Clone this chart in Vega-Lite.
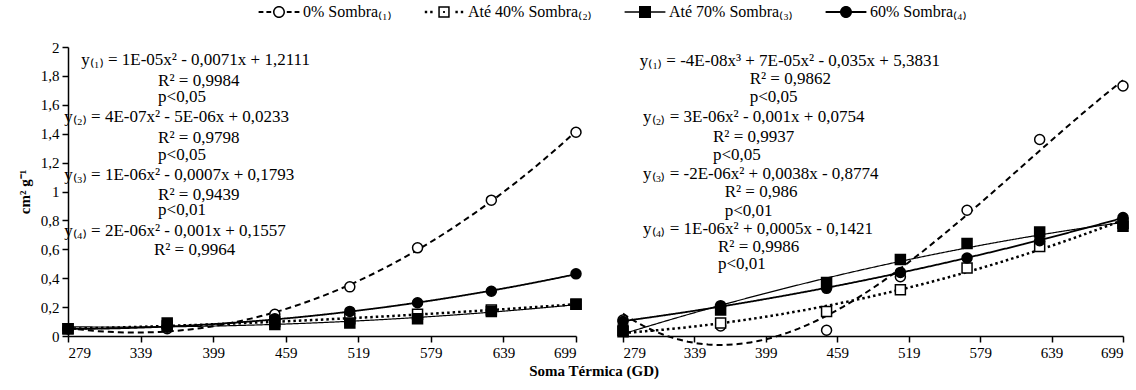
{
  "$schema": "https://vega.github.io/schema/vega-lite/v6.json",
  "padding": {"left": 17, "top": 4, "right": 2, "bottom": 2},
  "datasets": {
    "pts": [
      {"painel": "A", "serie": "0% Sombra₍₁₎", "x": 279, "y": 0.05},
      {"painel": "A", "serie": "0% Sombra₍₁₎", "x": 361, "y": 0.05},
      {"painel": "A", "serie": "0% Sombra₍₁₎", "x": 450, "y": 0.15},
      {"painel": "A", "serie": "0% Sombra₍₁₎", "x": 512, "y": 0.34},
      {"painel": "A", "serie": "0% Sombra₍₁₎", "x": 568, "y": 0.61},
      {"painel": "A", "serie": "0% Sombra₍₁₎", "x": 629, "y": 0.94},
      {"painel": "A", "serie": "0% Sombra₍₁₎", "x": 699, "y": 1.41},
      {"painel": "A", "serie": "Até 40% Sombra₍₂₎", "x": 279, "y": 0.05},
      {"painel": "A", "serie": "Até 40% Sombra₍₂₎", "x": 361, "y": 0.07},
      {"painel": "A", "serie": "Até 40% Sombra₍₂₎", "x": 450, "y": 0.10},
      {"painel": "A", "serie": "Até 40% Sombra₍₂₎", "x": 512, "y": 0.12},
      {"painel": "A", "serie": "Até 40% Sombra₍₂₎", "x": 568, "y": 0.15},
      {"painel": "A", "serie": "Até 40% Sombra₍₂₎", "x": 629, "y": 0.18},
      {"painel": "A", "serie": "Até 40% Sombra₍₂₎", "x": 699, "y": 0.22},
      {"painel": "A", "serie": "Até 70% Sombra₍₃₎", "x": 279, "y": 0.05},
      {"painel": "A", "serie": "Até 70% Sombra₍₃₎", "x": 361, "y": 0.09},
      {"painel": "A", "serie": "Até 70% Sombra₍₃₎", "x": 450, "y": 0.08},
      {"painel": "A", "serie": "Até 70% Sombra₍₃₎", "x": 512, "y": 0.09},
      {"painel": "A", "serie": "Até 70% Sombra₍₃₎", "x": 568, "y": 0.12},
      {"painel": "A", "serie": "Até 70% Sombra₍₃₎", "x": 629, "y": 0.17},
      {"painel": "A", "serie": "Até 70% Sombra₍₃₎", "x": 699, "y": 0.22},
      {"painel": "A", "serie": "60% Sombra₍₄₎", "x": 279, "y": 0.05},
      {"painel": "A", "serie": "60% Sombra₍₄₎", "x": 361, "y": 0.06},
      {"painel": "A", "serie": "60% Sombra₍₄₎", "x": 450, "y": 0.12},
      {"painel": "A", "serie": "60% Sombra₍₄₎", "x": 512, "y": 0.17},
      {"painel": "A", "serie": "60% Sombra₍₄₎", "x": 568, "y": 0.23},
      {"painel": "A", "serie": "60% Sombra₍₄₎", "x": 629, "y": 0.31},
      {"painel": "A", "serie": "60% Sombra₍₄₎", "x": 699, "y": 0.43},
      {"painel": "B", "serie": "0% Sombra₍₁₎", "x": 279, "y": 0.11},
      {"painel": "B", "serie": "0% Sombra₍₁₎", "x": 361, "y": 0.07},
      {"painel": "B", "serie": "0% Sombra₍₁₎", "x": 450, "y": 0.04},
      {"painel": "B", "serie": "0% Sombra₍₁₎", "x": 512, "y": 0.41},
      {"painel": "B", "serie": "0% Sombra₍₁₎", "x": 568, "y": 0.87},
      {"painel": "B", "serie": "0% Sombra₍₁₎", "x": 629, "y": 1.36},
      {"painel": "B", "serie": "0% Sombra₍₁₎", "x": 699, "y": 1.73},
      {"painel": "B", "serie": "Até 40% Sombra₍₂₎", "x": 279, "y": 0.03},
      {"painel": "B", "serie": "Até 40% Sombra₍₂₎", "x": 361, "y": 0.09},
      {"painel": "B", "serie": "Até 40% Sombra₍₂₎", "x": 450, "y": 0.17},
      {"painel": "B", "serie": "Até 40% Sombra₍₂₎", "x": 512, "y": 0.32},
      {"painel": "B", "serie": "Até 40% Sombra₍₂₎", "x": 568, "y": 0.47},
      {"painel": "B", "serie": "Até 40% Sombra₍₂₎", "x": 629, "y": 0.62},
      {"painel": "B", "serie": "Até 40% Sombra₍₂₎", "x": 699, "y": 0.78},
      {"painel": "B", "serie": "Até 70% Sombra₍₃₎", "x": 279, "y": 0.04},
      {"painel": "B", "serie": "Até 70% Sombra₍₃₎", "x": 361, "y": 0.18},
      {"painel": "B", "serie": "Até 70% Sombra₍₃₎", "x": 450, "y": 0.37},
      {"painel": "B", "serie": "Até 70% Sombra₍₃₎", "x": 512, "y": 0.53},
      {"painel": "B", "serie": "Até 70% Sombra₍₃₎", "x": 568, "y": 0.64},
      {"painel": "B", "serie": "Até 70% Sombra₍₃₎", "x": 629, "y": 0.72},
      {"painel": "B", "serie": "Até 70% Sombra₍₃₎", "x": 699, "y": 0.76},
      {"painel": "B", "serie": "60% Sombra₍₄₎", "x": 279, "y": 0.10},
      {"painel": "B", "serie": "60% Sombra₍₄₎", "x": 361, "y": 0.21},
      {"painel": "B", "serie": "60% Sombra₍₄₎", "x": 450, "y": 0.33},
      {"painel": "B", "serie": "60% Sombra₍₄₎", "x": 512, "y": 0.44},
      {"painel": "B", "serie": "60% Sombra₍₄₎", "x": 568, "y": 0.54},
      {"painel": "B", "serie": "60% Sombra₍₄₎", "x": 629, "y": 0.66},
      {"painel": "B", "serie": "60% Sombra₍₄₎", "x": 699, "y": 0.82}
    ],
    "txt": [
      {"painel": "A", "x": 290, "y": 1.907, "t": "y₍₁₎ = 1E-05x² - 0,0071x + 1,2111"},
      {"painel": "A", "x": 353.5, "y": 1.768, "t": "R² = 0,9984"},
      {"painel": "A", "x": 353.5, "y": 1.652, "t": "p<0,05"},
      {"painel": "A", "x": 276, "y": 1.517, "t": "y₍₂₎ = 4E-07x² - 5E-06x + 0,0233"},
      {"painel": "A", "x": 353.5, "y": 1.369, "t": "R² = 0,9798"},
      {"painel": "A", "x": 353.5, "y": 1.253, "t": "p<0,05"},
      {"painel": "A", "x": 276, "y": 1.114, "t": "y₍₃₎ = 1E-06x² - 0,0007x + 0,1793"},
      {"painel": "A", "x": 353.5, "y": 0.979, "t": "R² = 0,9439"},
      {"painel": "A", "x": 353.5, "y": 0.875, "t": "p<0,01"},
      {"painel": "A", "x": 276, "y": 0.729, "t": "y₍₄₎ = 2E-06x² - 0,001x + 0,1557"},
      {"painel": "A", "x": 350, "y": 0.596, "t": "R² = 0,9964"},
      {"painel": "B", "x": 293, "y": 1.905, "t": "y₍₁₎ = -4E-08x³ + 7E-05x² - 0,035x + 5,3831"},
      {"painel": "B", "x": 385.4, "y": 1.779, "t": "R² = 0,9862"},
      {"painel": "B", "x": 385.4, "y": 1.652, "t": "p<0,05"},
      {"painel": "B", "x": 295.8, "y": 1.513, "t": "y₍₂₎ = 3E-06x² - 0,001x + 0,0754"},
      {"painel": "B", "x": 354.6, "y": 1.375, "t": "R² = 0,9937"},
      {"painel": "B", "x": 354.6, "y": 1.253, "t": "p<0,05"},
      {"painel": "B", "x": 295.8, "y": 1.121, "t": "y₍₃₎ = -2E-06x² + 0,0038x - 0,8774"},
      {"painel": "B", "x": 364.4, "y": 0.994, "t": "R² = 0,986"},
      {"painel": "B", "x": 364.4, "y": 0.867, "t": "p<0,01"},
      {"painel": "B", "x": 295.8, "y": 0.74, "t": "y₍₄₎ = 1E-06x² + 0,0005x - 0,1421"},
      {"painel": "B", "x": 358.8, "y": 0.614, "t": "R² = 0,9986"},
      {"painel": "B", "x": 358.8, "y": 0.498, "t": "p<0,01"}
    ]
  },
  "title": {"text": "Soma Térmica (GD)", "orient": "bottom", "anchor": "middle", "font": "Liberation Serif", "fontSize": 15, "fontWeight": "bold", "color": "black", "offset": 4, "dx": 20},
  "spacing": 31,
  "hconcat": [
    {
      "width": 508,
      "height": 289,
      "layer": [
        {
          "data": {"name": "pts"},
          "transform": [
            {"filter": "datum.painel === 'A'"},
            {"regression": "y", "on": "x", "groupby": ["serie"], "method": "poly", "order": 2}
          ],
          "mark": {"type": "line", "color": "black"},
          "encoding": {
            "x": {"field": "x", "type": "quantitative", "scale": {"domain": [279, 699], "nice": false, "zero": false}, "axis": {"values": [279, 339, 399, 459, 519, 579, 639, 699], "title": null, "labelPadding": 3}},
            "y": {"field": "y", "type": "quantitative", "scale": {"domain": [0, 2], "nice": false}, "axis": {"values": [0, 0.2, 0.4, 0.6, 0.8, 1, 1.2, 1.4, 1.6, 1.8, 2], "title": "cm² g⁻¹", "titleFontWeight": "bold", "titlePadding": 8, "labelPadding": 3, "labelExpr": "replace(format(datum.value, '.1~f'), '.', ',')"}},
            "detail": {"field": "serie", "type": "nominal"},
            "strokeDash": {"condition": [{"test": "indexof(datum.serie, '0% Sombra') === 0", "value": [6, 4]}, {"test": "indexof(datum.serie, '40%') >= 0", "value": [2.5, 3]}], "value": [1, 0]},
            "strokeWidth": {"condition": [{"test": "indexof(datum.serie, '70%') >= 0", "value": 1.2}, {"test": "indexof(datum.serie, '40%') >= 0", "value": 2.5}, {"test": "indexof(datum.serie, '60%') === 0", "value": 1.8}], "value": 2}
          }
        },
        {
          "data": {"name": "pts"},
          "transform": [{"filter": "datum.painel === 'A'"}],
          "mark": {"type": "point", "filled": true, "stroke": "black", "strokeWidth": 1.5, "size": 100, "opacity": 1},
          "encoding": {
            "x": {"field": "x", "type": "quantitative", "scale": {"domain": [279, 699], "nice": false, "zero": false}, "axis": {"values": [279, 339, 399, 459, 519, 579, 639, 699], "title": null, "labelPadding": 3}},
            "y": {"field": "y", "type": "quantitative", "scale": {"domain": [0, 2], "nice": false}, "axis": {"values": [0, 0.2, 0.4, 0.6, 0.8, 1, 1.2, 1.4, 1.6, 1.8, 2], "title": "cm² g⁻¹", "titleFontWeight": "bold", "titlePadding": 8, "labelPadding": 3, "labelExpr": "replace(format(datum.value, '.1~f'), '.', ',')"}},
            "shape": {"condition": {"test": "indexof(datum.serie, 'Até') === 0", "value": "square"}, "value": "circle"},
            "fill": {"condition": {"test": "indexof(datum.serie, '0% Sombra') === 0 || indexof(datum.serie, '40%') >= 0", "value": "white"}, "value": "black"}
          }
        },
        {
          "data": {"name": "pts"},
          "transform": [{"filter": "datum.painel === 'none'"}],
          "mark": {"type": "point", "filled": true, "color": "black", "size": 100},
          "encoding": {
            "x": {"field": "x", "type": "quantitative", "scale": {"domain": [279, 699], "nice": false, "zero": false}, "axis": {"values": [279, 339, 399, 459, 519, 579, 639, 699], "title": null, "labelPadding": 3}},
            "y": {"field": "y", "type": "quantitative", "scale": {"domain": [0, 2], "nice": false}, "axis": {"values": [0, 0.2, 0.4, 0.6, 0.8, 1, 1.2, 1.4, 1.6, 1.8, 2], "title": "cm² g⁻¹", "titleFontWeight": "bold", "titlePadding": 8, "labelPadding": 3, "labelExpr": "replace(format(datum.value, '.1~f'), '.', ',')"}},
            "shape": {"field": "serie", "type": "nominal",
              "scale": {"domain": ["0% Sombra₍₁₎", "Até 40% Sombra₍₂₎", "Até 70% Sombra₍₃₎", "60% Sombra₍₄₎"],
                "range": [
                  "M-3.4,-0.15H-2.6V0.15H-3.4ZM-2.1,-0.15H-1.3V0.15H-2.1ZM1.3,-0.15H2.1V0.15H1.3ZM2.6,-0.15H3.4V0.15H2.6ZM-1,0A1,1,0,1,1,1,0A1,1,0,1,1,-1,0ZM-0.75,0A0.75,0.75,0,1,0,0.75,0A0.75,0.75,0,1,0,-0.75,0Z",
                  "M-3.2,-0.2H-2.8V0.2H-3.2ZM-2.3,-0.2H-1.9V0.2H-2.3ZM1.9,-0.2H2.3V0.2H1.9ZM2.8,-0.2H3.2V0.2H2.8ZM-0.95,-0.95H0.95V0.95H-0.95ZM-0.7,-0.7V0.7H0.7V-0.7ZM-0.15,-0.15H0.15V0.15H-0.15Z",
                  "M-3.4,-0.12H3.4V0.12H-3.4ZM-1,-1H1V1H-1Z",
                  "M-3.4,-0.15H3.4V0.15H-3.4ZM-1,0A1,1,0,1,1,1,0A1,1,0,1,1,-1,0Z"
                ]},
              "legend": {"title": null, "orient": "none", "legendX": 203, "legendY": -43, "direction": "horizontal", "symbolSize": 144, "symbolStrokeWidth": 0, "symbolFillColor": "black", "symbolOpacity": 1, "labelFont": "Liberation Serif", "labelFontSize": 16, "labelColor": "black", "labelOffset": 16, "columnPadding": 32}}
          }
        },
        {
          "data": {"name": "txt"},
          "transform": [{"filter": "datum.painel === 'A'"}],
          "mark": {"type": "text", "align": "left", "baseline": "middle", "font": "Liberation Serif", "fontSize": 17, "color": "black"},
          "encoding": {
            "x": {"field": "x", "type": "quantitative", "scale": {"domain": [279, 699], "nice": false, "zero": false}, "axis": {"values": [279, 339, 399, 459, 519, 579, 639, 699], "title": null, "labelPadding": 3}},
            "y": {"field": "y", "type": "quantitative", "scale": {"domain": [0, 2], "nice": false}, "axis": {"values": [0, 0.2, 0.4, 0.6, 0.8, 1, 1.2, 1.4, 1.6, 1.8, 2], "title": "cm² g⁻¹", "titleFontWeight": "bold", "titlePadding": 8, "labelPadding": 3, "labelExpr": "replace(format(datum.value, '.1~f'), '.', ',')"}},
            "text": {"field": "t", "type": "nominal"}
          }
        }
      ]
    },
    {
      "width": 500,
      "height": 289,
      "layer": [
        {
          "data": {"name": "pts"},
          "transform": [
            {"filter": "datum.painel === 'B' && datum.serie !== '0% Sombra₍₁₎'"},
            {"regression": "y", "on": "x", "groupby": ["serie"], "method": "poly", "order": 2}
          ],
          "mark": {"type": "line", "color": "black"},
          "encoding": {
            "x": {"field": "x", "type": "quantitative", "scale": {"domain": [279, 699], "nice": false, "zero": false}, "axis": {"values": [279, 339, 399, 459, 519, 579, 639, 699], "title": null, "labelPadding": 3}},
            "y": {"field": "y", "type": "quantitative", "scale": {"domain": [0, 2], "nice": false}, "axis": null},
            "detail": {"field": "serie", "type": "nominal"},
            "strokeDash": {"condition": [{"test": "indexof(datum.serie, '0% Sombra') === 0", "value": [6, 4]}, {"test": "indexof(datum.serie, '40%') >= 0", "value": [2.5, 3]}], "value": [1, 0]},
            "strokeWidth": {"condition": [{"test": "indexof(datum.serie, '70%') >= 0", "value": 1.2}, {"test": "indexof(datum.serie, '40%') >= 0", "value": 2.5}, {"test": "indexof(datum.serie, '60%') === 0", "value": 1.8}], "value": 2}
          }
        },
        {
          "data": {"name": "pts"},
          "transform": [
            {"filter": "datum.painel === 'B' && datum.serie === '0% Sombra₍₁₎'"},
            {"regression": "y", "on": "x", "groupby": ["serie"], "method": "poly", "order": 3}
          ],
          "mark": {"type": "line", "color": "black", "strokeDash": [6, 4], "strokeWidth": 2},
          "encoding": {
            "x": {"field": "x", "type": "quantitative", "scale": {"domain": [279, 699], "nice": false, "zero": false}, "axis": {"values": [279, 339, 399, 459, 519, 579, 639, 699], "title": null, "labelPadding": 3}},
            "y": {"field": "y", "type": "quantitative", "scale": {"domain": [0, 2], "nice": false}, "axis": null}
          }
        },
        {
          "data": {"name": "pts"},
          "transform": [{"filter": "datum.painel === 'B'"}],
          "mark": {"type": "point", "filled": true, "stroke": "black", "strokeWidth": 1.5, "size": 100, "opacity": 1},
          "encoding": {
            "x": {"field": "x", "type": "quantitative", "scale": {"domain": [279, 699], "nice": false, "zero": false}, "axis": {"values": [279, 339, 399, 459, 519, 579, 639, 699], "title": null, "labelPadding": 3}},
            "y": {"field": "y", "type": "quantitative", "scale": {"domain": [0, 2], "nice": false}, "axis": null},
            "shape": {"condition": {"test": "indexof(datum.serie, 'Até') === 0", "value": "square"}, "value": "circle"},
            "fill": {"condition": {"test": "indexof(datum.serie, '0% Sombra') === 0 || indexof(datum.serie, '40%') >= 0", "value": "white"}, "value": "black"}
          }
        },
        {
          "data": {"name": "txt"},
          "transform": [{"filter": "datum.painel === 'B'"}],
          "mark": {"type": "text", "align": "left", "baseline": "middle", "font": "Liberation Serif", "fontSize": 17, "color": "black"},
          "encoding": {
            "x": {"field": "x", "type": "quantitative", "scale": {"domain": [279, 699], "nice": false, "zero": false}, "axis": {"values": [279, 339, 399, 459, 519, 579, 639, 699], "title": null, "labelPadding": 3}},
            "y": {"field": "y", "type": "quantitative", "scale": {"domain": [0, 2], "nice": false}, "axis": null},
            "text": {"field": "t", "type": "nominal"}
          }
        }
      ]
    }
  ],
  "config": {
    "view": {"stroke": null},
    "font": "Liberation Serif",
    "axis": {"grid": false, "domainColor": "black", "tickColor": "black", "labelColor": "black", "titleColor": "black", "labelFont": "Liberation Serif", "titleFont": "Liberation Serif", "labelFontSize": 15, "titleFontSize": 15, "domainWidth": 1.5, "tickWidth": 1.5, "tickSize": 6},
    "legend": {"labelFont": "Liberation Serif", "labelFontSize": 16, "labelColor": "black"}
  }
}
